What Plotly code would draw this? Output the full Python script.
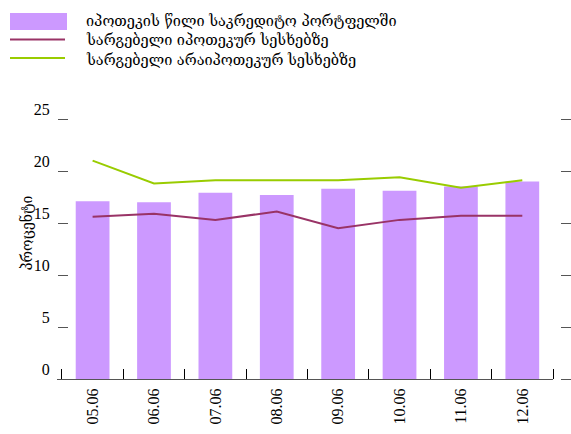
import plotly.graph_objects as go

# Months shown on the category axis
months = ["05.06", "06.06", "07.06", "08.06", "09.06", "10.06", "11.06", "12.06"]

# Series values, percent
mortgage_share = [17.1, 17.0, 17.9, 17.7, 18.3, 18.1, 18.5, 19.0]
mortgage_rate = [15.6, 15.9, 15.3, 16.1, 14.5, 15.3, 15.7, 15.7]
non_mortgage_rate = [21.0, 18.8, 19.1, 19.1, 19.1, 19.4, 18.4, 19.1]

series_names = [
    "იპოთეკის წილი საკრედიტო პორტფელში",
    "სარგებელი იპოთეკურ სესხებზე",
    "სარგებელი არაიპოთეკურ სესხებზე",
]
y_title = "პროცენტი"
y_ticks = [0, 5, 10, 15, 20, 25]

BAR_COLOR = "#CC99FF"
RED = "#993366"
GREEN = "#99CC00"
AXIS_GRAY = "#555555"

W, H = 571, 434
SERIF = "Liberation Serif, DejaVu Serif, serif"
GEO = "DejaVu Serif, serif"

x = list(range(len(months)))


def px(v):
    return v / W


def py(v):
    return 1 - v / H


fig = go.Figure()
fig.add_trace(go.Bar(x=x, y=mortgage_share, width=0.55, marker_color=BAR_COLOR,
                     marker_line_width=0, showlegend=False))
fig.add_trace(go.Scatter(x=x, y=mortgage_rate, mode="lines",
                         line=dict(color=RED, width=2), showlegend=False))
fig.add_trace(go.Scatter(x=x, y=non_mortgage_rate, mode="lines",
                         line=dict(color=GREEN, width=2), showlegend=False))
# carrier for the right-hand tick column
fig.add_trace(go.Scatter(x=[x[0]], y=[0], yaxis="y2", mode="markers",
                         marker=dict(opacity=0), showlegend=False, hoverinfo="skip"))

fig.update_layout(
    width=W, height=H,
    margin=dict(l=0, r=0, t=0, b=0, autoexpand=False),
    paper_bgcolor="white", plot_bgcolor="white",
    xaxis=dict(
        domain=[px(57), px(553)],
        range=[-0.58, len(months) - 0.5],
        automargin=False,
        tickmode="array", tickvals=x, ticktext=months,
        tickangle=-90, ticks="", ticklabelstandoff=2,
        tickfont=dict(family=SERIF, size=16, color="black"),
        showline=True, linecolor=AXIS_GRAY, linewidth=1,
        showgrid=False, zeroline=False,
        minor=dict(tick0=-0.5, dtick=1, ticks="inside", ticklen=10,
                   tickcolor="black", tickwidth=1, showgrid=False),
    ),
    yaxis=dict(
        domain=[py(379), py(119)],
        range=[0, 25],
        automargin=False,
        anchor="free", position=px(68), side="left",
        tickmode="array", tickvals=y_ticks,
        ticks="outside", ticklen=10, tickcolor=AXIS_GRAY, tickwidth=1,
        ticklabelshift=-10, ticklabelstandoff=5,
        tickfont=dict(family=SERIF, size=16, color="black"),
        showline=False, showgrid=False, zeroline=False,
    ),
    yaxis2=dict(
        overlaying="y", range=[0, 25],
        automargin=False,
        anchor="free", position=px(560), side="right",
        tickmode="array", tickvals=y_ticks,
        ticks="outside", ticklen=11, tickcolor=AXIS_GRAY, tickwidth=1,
        showticklabels=False, showline=False, showgrid=False, zeroline=False,
    ),
)

# Axis title
fig.add_annotation(text=y_title, xref="paper", yref="paper", x=px(16), y=py(233),
                   textangle=-90, showarrow=False,
                   font=dict(family=GEO, size=14, color="black"))

# Legend block
fig.add_shape(type="rect", xref="paper", yref="paper",
              x0=px(10), x1=px(67), y0=py(30), y1=py(13),
              fillcolor=BAR_COLOR, line_width=0)
fig.add_shape(type="line", xref="paper", yref="paper",
              x0=px(10), x1=px(65), y0=py(39.5), y1=py(39.5),
              line=dict(color=RED, width=2))
fig.add_shape(type="line", xref="paper", yref="paper",
              x0=px(10), x1=px(65), y0=py(58), y1=py(58),
              line=dict(color=GREEN, width=2))
for name, yc in zip(series_names, [21, 40, 60]):
    fig.add_annotation(text=name, xref="paper", yref="paper",
                       x=px(84), y=py(yc), xanchor="left", yanchor="middle",
                       showarrow=False,
                       font=dict(family=GEO, size=14.5, color="black"))

fig.write_html("out.html")
